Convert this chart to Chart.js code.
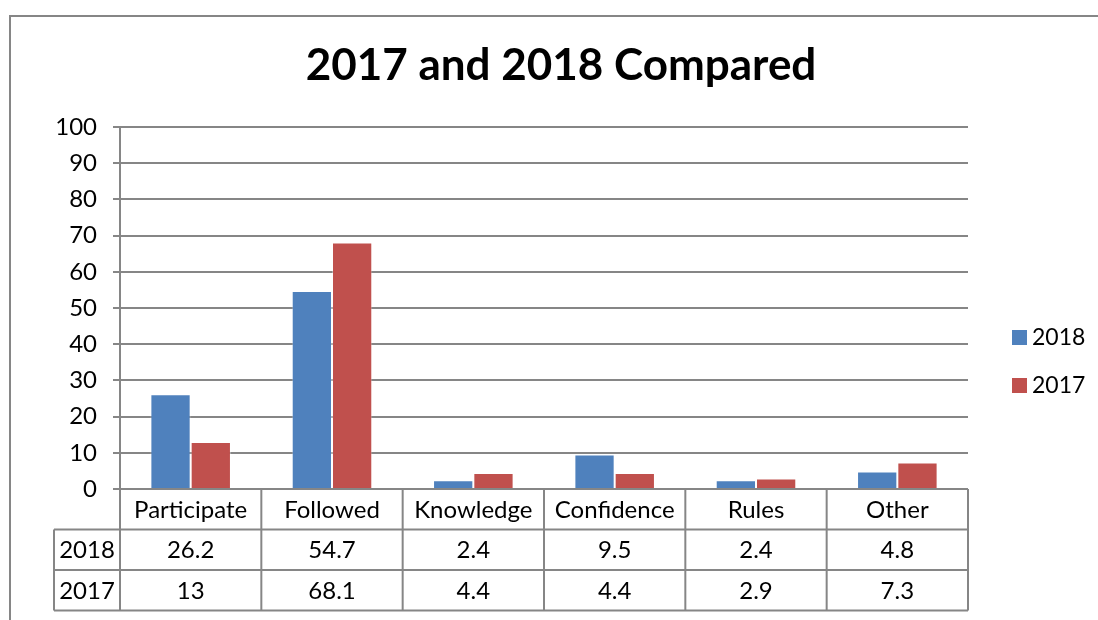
<!DOCTYPE html>
<html>
<head>
<meta charset="utf-8">
<script src="https://cdn.jsdelivr.net/npm/chart.js@4"></script>
<style>
  body { margin: 0; background: #fff; }
  #wrap { width: 1098px; height: 620px; }
</style>
</head>
<body>
<div id="wrap"><canvas id="myChart"></canvas></div>
<script>
const categories = ['Participate', 'Followed', 'Knowledge', 'Confidence', 'Rules', 'Other'];
const values2018 = [26.2, 54.7, 2.4, 9.5, 2.4, 4.8];
const values2017 = [13, 68.1, 4.4, 4.4, 2.9, 7.3];
const yTicks = [0, 10, 20, 30, 40, 50, 60, 70, 80, 90, 100];

const FONT = 'Lato, "Open Sans", sans-serif';
const GRID = '#868686';
const BLUE = '#4F81BD';
const RED = '#C0504D';

const series = [
  { label: '2018', data: values2018, color: BLUE },
  { label: '2017', data: values2017, color: RED }
];

// frame, title, legend and data table under the plot
const extras = {
  id: 'extras',
  beforeDraw(chart) {
    const c = chart.ctx;
    c.save();
    c.fillStyle = '#fff';
    c.fillRect(0, 0, chart.width, chart.height);
    c.restore();
  },
  afterDraw(chart) {
    const c = chart.ctx;
    const area = chart.chartArea;
    const xs = chart.scales.x;
    const n = categories.length;
    const w = (area.right - area.left) / n;
    c.save();

    // outer frame
    c.strokeStyle = GRID;
    c.lineWidth = 2;
    c.beginPath();
    c.moveTo(10, chart.height + 5);
    c.lineTo(10, 16);
    c.lineTo(chart.width + 5, 16);
    c.stroke();

    // title
    c.fillStyle = '#000';
    c.font = 'bold 44px ' + FONT;
    c.textAlign = 'center';
    c.textBaseline = 'middle';
    c.fillText('2017 and 2018 Compared', 561, 66);

    // legend
    c.font = '23px ' + FONT;
    c.textAlign = 'left';
    series.forEach((s, i) => {
      const y = 337 + i * 48;
      c.fillStyle = s.color;
      c.fillRect(1012, y - 7, 15, 15);
      c.fillStyle = '#000';
      c.fillText(s.label, 1032, y + 1);
    });

    // data table
    const rowH = 40.5;
    const top = area.bottom;
    const labelLeft = 54;
    c.strokeStyle = GRID;
    c.lineWidth = 2;
    c.beginPath();
    c.moveTo(labelLeft, top + rowH * 1); c.lineTo(area.right, top + rowH * 1);
    c.moveTo(labelLeft, top + rowH * 2); c.lineTo(area.right, top + rowH * 2);
    c.moveTo(labelLeft, top + rowH * 3); c.lineTo(area.right, top + rowH * 3);
    for (let i = 0; i <= n; i++) {
      const x = area.left + i * w;
      c.moveTo(x, top); c.lineTo(x, top + rowH * 3);
    }
    c.moveTo(labelLeft, top + rowH); c.lineTo(labelLeft, top + rowH * 3);
    c.stroke();

    c.fillStyle = '#000';
    c.font = '24px ' + FONT;
    c.textAlign = 'center';
    categories.forEach((cat, i) => {
      const cx = xs.getPixelForValue(i);
      c.fillText(cat, cx, top + rowH * 0.5 + 1);
      series.forEach((s, j) => {
        c.fillText(String(s.data[i]), cx, top + rowH * (1.5 + j) + 1);
      });
    });
    series.forEach((s, j) => {
      c.fillText(s.label, (labelLeft + area.left) / 2, top + rowH * (1.5 + j) + 1);
    });
    c.restore();
  }
};

const ctx = document.getElementById('myChart');

new Chart(ctx, {
  type: 'bar',
  data: {
    labels: categories,
    datasets: series.map(s => ({
      label: s.label,
      data: s.data,
      backgroundColor: s.color,
      borderColor: 'rgba(255,255,255,0.35)',
      borderWidth: 1,
      categoryPercentage: 0.57,
      barPercentage: 1.0
    }))
  },
  options: {
    responsive: true,
    maintainAspectRatio: false,
    animation: false,
    layout: {
      padding: { top: 127, right: 130, bottom: 131, left: 0 }
    },
    plugins: {
      legend: { display: false },
      title: { display: false },
      tooltip: { enabled: false }
    },
    scales: {
      x: { display: false },
      y: {
        min: 0,
        max: 100,
        afterBuildTicks(scale) {
          scale.ticks = yTicks.map(v => ({ value: v }));
        },
        afterFit(scale) {
          scale.width = 120;
        },
        ticks: {
          color: '#000',
          padding: 16,
          font: { family: FONT, size: 24 }
        },
        grid: {
          color: GRID,
          lineWidth: 2,
          tickLength: 7
        },
        border: { color: GRID, width: 2 }
      }
    }
  },
  plugins: [extras]
});
</script>
</body>
</html>
